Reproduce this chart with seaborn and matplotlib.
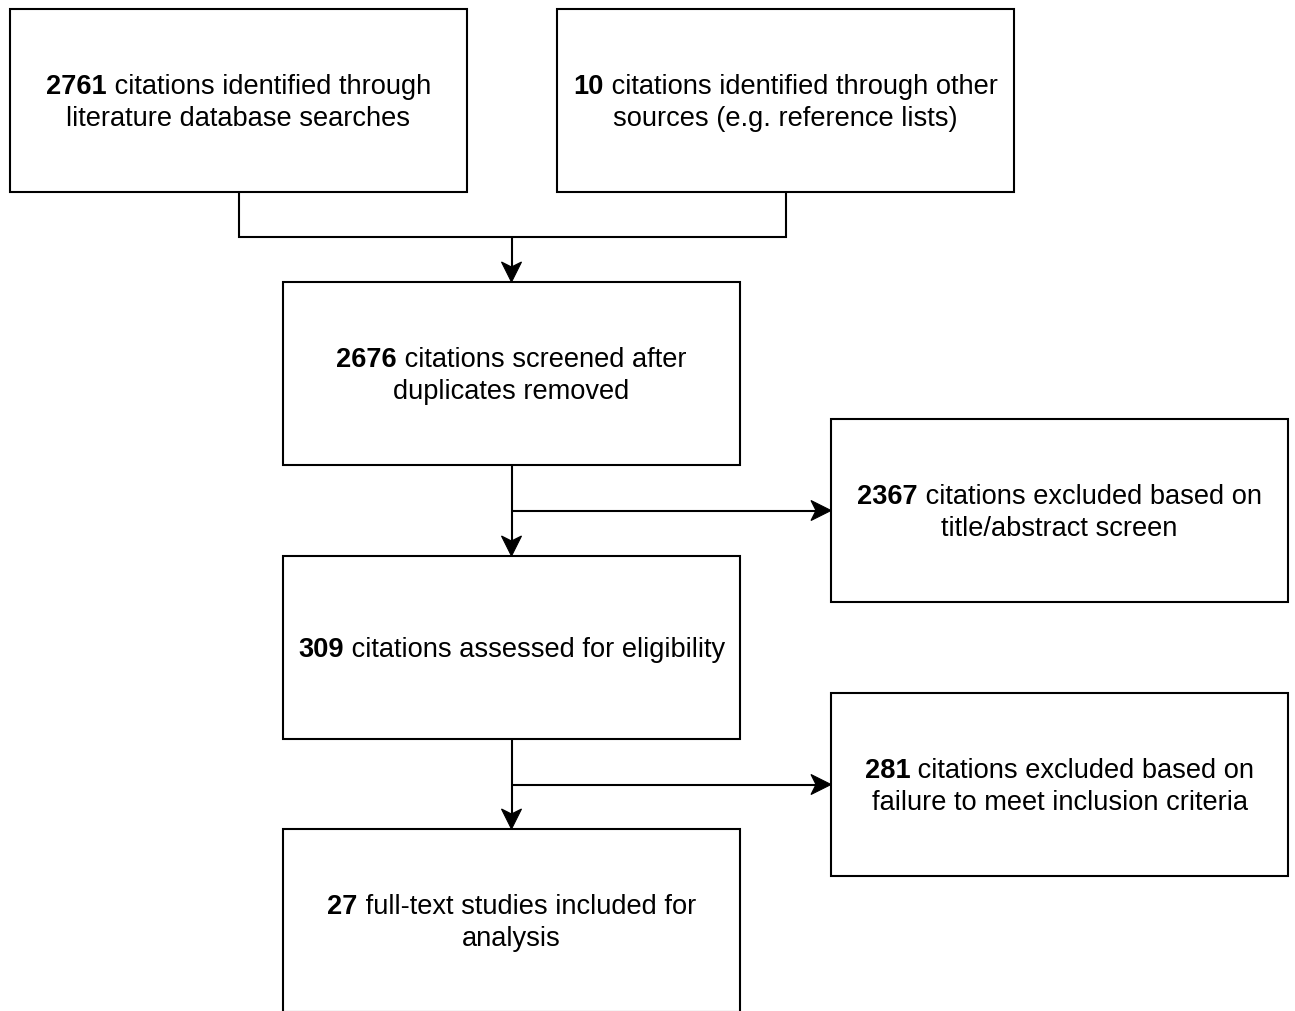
import matplotlib
matplotlib.use("Agg")
import matplotlib.pyplot as plt
from matplotlib.patches import Rectangle, Polygon
import seaborn as sns

# flow diagram content
counts = [2761, 10, 2676, 2367, 309, 281, 27]
first_lines = [" citations identified through",
               " citations identified through other",
               " citations screened after",
               " citations excluded based on",
               " citations assessed for eligibility",
               " citations excluded based on",
               " full-text studies included for"]
second_lines = ["literature database searches",
                "sources (e.g. reference lists)",
                "duplicates removed",
                "title/abstract screen",
                "",
                "failure to meet inclusion criteria",
                "analysis"]

# box layout in pixels (left, top)
box_pos = [(10, 9), (557, 9), (283, 282), (831, 419), (283, 556), (831, 693), (283, 829)]
box_w, box_h = 457, 183
merge_from = [0, 1]          # sources merged into box 2
main_flow = [(2, 4), (4, 6)]  # downward arrows
side_flow = [(2, 3), (4, 5)]  # exclusions to the right

sns.set_theme(style="white")
plt.rcParams['font.family'] = ['Liberation Sans', 'DejaVu Sans']

W, H = 1295, 1011
fig = plt.figure(figsize=(W / 100, H / 100), dpi=100)
ax = fig.add_axes([0, 0, 1, 1])
ax.set_xlim(0, W)
ax.set_ylim(H, 0)
ax.axis('off')

lw = 1.5
fs = 19.6


def centre(i):
    x, y = box_pos[i]
    return x + box_w / 2, y + box_h / 2


def arrow(x0, y0, x1, y1):
    # notched arrow head, 20 px long and 20 px wide
    dx, dy = x1 - x0, y1 - y0
    n = (dx ** 2 + dy ** 2) ** 0.5
    ux, uy = dx / n, dy / n
    px, py = -uy, ux
    L, hw, notch = 20, 10, 15
    bx, by = x1 - ux * L, y1 - uy * L
    nx, ny = x1 - ux * notch, y1 - uy * notch
    ax.plot([x0, nx], [y0, ny], color='black', lw=lw, solid_capstyle='butt')
    ax.add_patch(Polygon([(x1, y1), (bx + px * hw, by + py * hw), (nx, ny),
                          (bx - px * hw, by - py * hw)], closed=True,
                         fc='black', ec='black', lw=0.8))


for x, y in box_pos:
    ax.add_patch(Rectangle((x, y), box_w, box_h, fill=False, ec='black', lw=lw))

# merge connector
mid_y = box_pos[0][1] + box_h + 45
xs = [centre(i)[0] for i in merge_from]
ax.plot([xs[0], xs[0], xs[1], xs[1]],
        [box_pos[0][1] + box_h, mid_y, mid_y, box_pos[1][1] + box_h],
        color='black', lw=lw, solid_joinstyle='miter')
arrow(centre(2)[0], mid_y, centre(2)[0], box_pos[2][1])

for a, b in main_flow:
    cx = centre(a)[0]
    arrow(cx, box_pos[a][1] + box_h, cx, box_pos[b][1])
for a, b in side_flow:
    cx = centre(a)[0]
    arrow(cx, centre(b)[1], box_pos[b][0], centre(b)[1])

# text: bold count + regular text, centred
fig.canvas.draw()
renderer = fig.canvas.get_renderer()
gap = 32
cap = 9.5
for i in range(len(counts)):
    cx, cy = centre(i)
    y1 = cy - gap / 2 if second_lines[i] else cy
    tb = ax.text(0, y1 + cap, str(counts[i]), fontsize=fs, fontweight='bold',
                 ha='left', va='baseline', color='black')
    tr = ax.text(0, y1 + cap, first_lines[i], fontsize=fs, ha='left',
                 va='baseline', color='black')
    wb = tb.get_window_extent(renderer).width
    wr = tr.get_window_extent(renderer).width
    x0 = cx - (wb + wr) / 2
    tb.set_x(x0)
    tr.set_x(x0 + wb)
    if second_lines[i]:
        ax.text(cx, cy + gap / 2 + cap, second_lines[i], fontsize=fs,
                ha='center', va='baseline', color='black')

fig.savefig('out.png', dpi=100, facecolor='white')
